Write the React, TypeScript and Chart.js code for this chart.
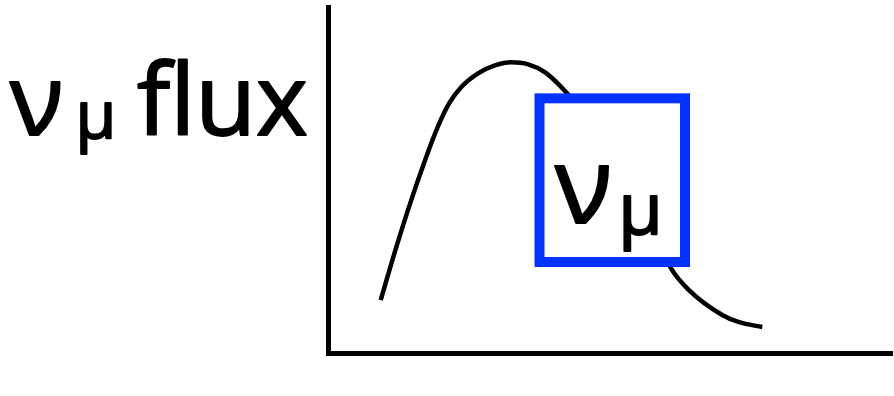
import React, { useEffect, useRef } from "react";
import { Chart, registerables } from "chart.js";

Chart.register(...registerables);

// Schematic muon-neutrino flux spectrum (arbitrary units)
const energy = [9.35, 12.0, 14.7, 17.4, 19.5, 21.5, 23.6, 26.6, 29.6, 32.5, 35.5, 38.5, 42.1, 48.0, 53.3, 57.8, 60.8, 64.0, 69.9, 72.9, 77.0];
const flux = [15.3, 30.0, 43.9, 56.6, 65.5, 72.2, 76.8, 80.8, 83.1, 84.0, 83.4, 81.1, 75.6, 64.1, 49.4, 35.5, 24.5, 18.2, 11.0, 8.9, 7.5];

// Highlighted energy window (data units)
const windowX = [37.5, 63.3];
const windowY = [26.3, 73.6];

const axisLabelMain = "ν";
const axisLabelSub = "μ";
const axisLabelRest = "flux";
const boxLabelMain = "ν";
const boxLabelSub = "μ";

const FONT = '"Open Sans", "DejaVu Sans", sans-serif';

function boldText(ctx: CanvasRenderingContext2D, t: string, x: number, y: number) {
  ctx.fillText(t, x, y);
  ctx.strokeText(t, x, y);
}

const overlayPlugin = {
  id: "overlay",
  afterDatasetsDraw(chart: any) {
    const ctx = chart.ctx;
    const xs = chart.scales.x;
    const ys = chart.scales.y;
    const x1 = xs.getPixelForValue(windowX[0]);
    const x2 = xs.getPixelForValue(windowX[1]);
    const y1 = ys.getPixelForValue(windowY[1]);
    const y2 = ys.getPixelForValue(windowY[0]);
    ctx.save();
    ctx.fillStyle = "#ffffff";
    ctx.fillRect(x1, y1, x2 - x1, y2 - y1);
    ctx.strokeStyle = "#0433ff";
    ctx.lineWidth = 10;
    ctx.lineJoin = "miter";
    ctx.strokeRect(x1, y1, x2 - x1, y2 - y1);

    ctx.fillStyle = "#000000";
    ctx.strokeStyle = "#000000";
    ctx.lineWidth = 2;
    ctx.lineJoin = "round";
    ctx.textBaseline = "alphabetic";
    ctx.textAlign = "left";

    // box label
    ctx.font = `400 106px ${FONT}`;
    boldText(ctx, boxLabelMain, 555, 223);
    const w1 = ctx.measureText(boxLabelMain).width;
    ctx.font = `400 72px ${FONT}`;
    boldText(ctx, boxLabelSub, 555 + w1 + 6, 234);

    // axis label
    ctx.font = `400 99px ${FONT}`;
    boldText(ctx, axisLabelMain, 10, 135);
    const w2 = ctx.measureText(axisLabelMain).width;
    ctx.font = `400 66px ${FONT}`;
    boldText(ctx, axisLabelSub, 10 + w2 + 12, 138);
    ctx.font = `400 99px ${FONT}`;
    boldText(ctx, axisLabelRest, 137, 135);
    ctx.restore();
  },
};

export default function App() {
  const ref = useRef<HTMLCanvasElement | null>(null);
  useEffect(() => {
    if (!ref.current) return;
    const chart = new Chart(ref.current, {
      type: "line",
      data: {
        datasets: [
          {
            data: energy.map((e, i) => ({ x: e, y: flux[i] })),
            borderColor: "#000000",
            borderWidth: 4.5,
            pointRadius: 0,
            cubicInterpolationMode: "monotone",
            fill: false,
            borderCapStyle: "butt",
          },
        ],
      },
      options: {
        responsive: false,
        animation: false,
        layout: { padding: { left: 320, top: 7, right: 2, bottom: 35 } },
        plugins: { legend: { display: false }, tooltip: { enabled: false } },
        scales: {
          x: {
            type: "linear",
            min: 0,
            max: 100,
            grid: { display: false },
            ticks: { display: false },
            border: { display: true, color: "#000000", width: 5 },
          },
          y: {
            type: "linear",
            min: 0,
            max: 100,
            grid: { display: false },
            ticks: { display: false },
            border: { display: true, color: "#000000", width: 5 },
          },
        },
      },
      plugins: [overlayPlugin],
    });
    return () => chart.destroy();
  }, []);
  return (
    <div style={{ position: "absolute", left: 0, top: 0, width: 894, height: 396, background: "#fff" }}>
      <canvas ref={ref} width={894} height={396} style={{ display: "block" }} />
    </div>
  );
}
